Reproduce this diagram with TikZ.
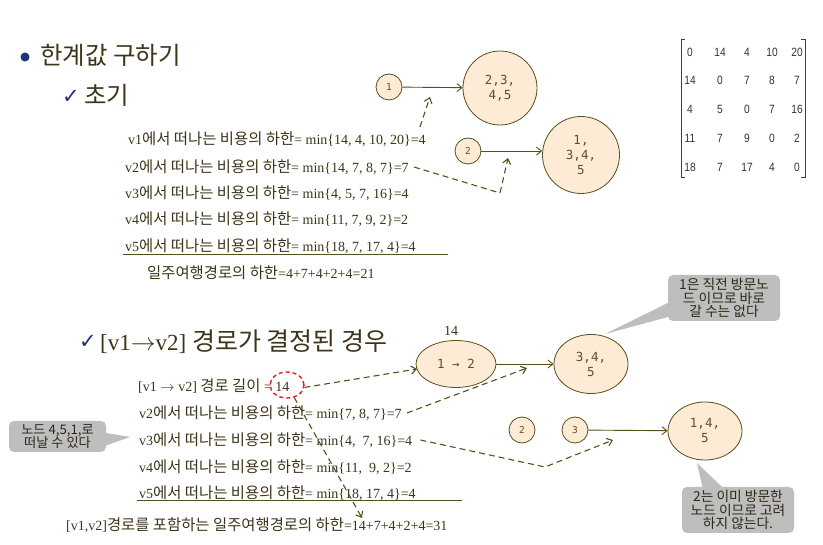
\documentclass[tikz,border=0pt]{standalone}
\usepackage{fontspec}
\setmainfont{Liberation Serif}
\newfontfamily\kr[Scale=1.1]{Noto Sans CJK KR}
\newfontfamily\krn{Noto Sans CJK KR}
\newfontfamily\mono{DejaVu Sans Mono}
\newfontfamily\msans[FakeStretch=0.85]{Liberation Sans}
\newfontfamily\sym{DejaVu Sans}
\usetikzlibrary{arrows.meta,shapes.geometric}
\newcommand\K[1]{{\kr #1}}
\definecolor{textc}{RGB}{62,52,25}
\definecolor{linec}{RGB}{85,80,30}
\definecolor{nodefill}{RGB}{253,235,213}
\definecolor{nodetext}{RGB}{105,75,35}
\definecolor{callc}{RGB}{190,190,190}
\definecolor{calltext}{RGB}{45,40,20}
\definecolor{bluec}{RGB}{30,50,120}
\definecolor{redc}{RGB}{230,30,30}
\begin{document}
\begin{tikzpicture}[x=1pt,y=-1pt,
 txt/.style={anchor=west,inner sep=0pt,text=textc,font=\fontsize{14}{16}\selectfont},
 vnode/.style={draw=linec,fill=nodefill,line width=0.8pt,inner sep=0pt,text=nodetext,align=center,font=\mono\fontsize{12.5}{15}\selectfont},
 smallnode/.style={vnode,circle,minimum size=26pt,font=\mono\fontsize{9.5}{10}\selectfont},
 setnode/.style={vnode,circle},
 ellnode/.style={vnode,ellipse},
 arr/.style={draw=linec,line width=0.9pt,-{Straight Barb[length=5pt,width=8pt]}},
 darr/.style={draw=linec,line width=1.1pt,dash pattern=on 6pt off 4pt,-{Straight Barb[length=5pt,width=8pt]}},
 call/.style={fill=callc,rounded corners=5pt,inner sep=0pt,align=center,text=calltext,font=\kr\fontsize{12.5}{13.5}\selectfont},
 mat/.style={inner sep=0pt,text=black!80,font=\msans\fontsize{12}{13}\selectfont},
 sep/.style={draw=linec,line width=0.9pt},
 chk/.style={anchor=west,inner sep=0pt,text=bluec,font=\sym\fontsize{21}{22}\selectfont},
]
\useasboundingbox (0,0) rectangle (823,545);
\fill[white] (0,0) rectangle (823,545);

% ---- headings
\fill[bluec] (25,57) circle (4.5);
\node[txt,font=\krn\fontsize{24.5}{28}\selectfont] (title) at (40,55) {한계값 구하기};
\node[chk] (ck1) at (62,97) {✓};
\node[txt,font=\krn\fontsize{24.5}{28}\selectfont] (sub1) at (84,95) {초기};

% ---- first block of text
\node[txt] (L1) at (128,139) {v1\K{에서 떠나는 비용의 하한}= min\{14, 4, 10, 20\}=4};
\node[txt] (L2) at (125,167) {v2\K{에서 떠나는 비용의 하한}= min\{14, 7, 8, 7\}=7};
\node[txt] (L3) at (125,193) {v3\K{에서 떠나는 비용의 하한}= min\{4, 5, 7, 16\}=4};
\node[txt] (L4) at (125,219) {v4\K{에서 떠나는 비용의 하한}= min\{11, 7, 9, 2\}=2};
\node[txt] (L5) at (125,246) {v5\K{에서 떠나는 비용의 하한}= min\{18, 7, 17, 4\}=4};
\draw[sep] (123,254) -- (448,254);
\node[txt] (L6) at (147,273) {\K{일주여행경로의 하한}=4+7+4+2+4=21};

% ---- first graph
\node[smallnode] (n1) at (389,87) {1};
\node[setnode,minimum size=74pt] (s1) at (500,88) {2,3,\\4,5};
\draw[arr] (n1) -- (s1);
\node[smallnode] (n2) at (468,151) {2};
\node[setnode,minimum size=77pt] (s2) at (581,155) {1,\\3,4,\\5};
\draw[arr] (n2) -- (n2 -| s2.west);
\coordinate (t1) at (430,97);
\draw[darr] ([xshift=-6pt,yshift=12pt]L1.east) -- (t1);
\coordinate (b2) at (500,193);
\coordinate (t2) at (508,158);
\draw[darr] ([xshift=5pt]L2.east) -- (b2) -- (t2);

% ---- cost matrix
\foreach \a/\b/\c/\d/\e [count=\r] in {0/14/4/10/20,14/0/7/8/7,4/5/0/7/16,11/7/9/0/2,18/7/17/4/0}{
  \pgfmathsetmacro\yy{52+28.75*(\r-1)}
  \node[mat] (m\r a) at (690,\yy) {\a};
  \node[mat] (m\r b) at (720,\yy) {\b};
  \node[mat] (m\r c) at (747,\yy) {\c};
  \node[mat] (m\r d) at (772,\yy) {\d};
  \node[mat] (m\r e) at (797,\yy) {\e};
}
\draw[black!75,line width=0.7pt] (685,39) -- (681,39) -- (681,177) -- (685,177);
\draw[black!75,line width=0.7pt] (801,39) -- (805,39) -- (805,177) -- (801,177);

% ---- second heading
\node[chk] (ck2) at (79,342) {✓};
\node[txt] (sub2) at (100,342) {{\fontsize{23}{26}\selectfont [v1$\rightarrow$v2] }{\krn\fontsize{25}{28}\selectfont 경로가 결정된 경우}};

% ---- second block of text
\node[txt] (P0) at (138,386) {[v1 $\rightarrow$ v2] \K{경로 길이} = 14};
\node[txt] (P2) at (139,413) {v2\K{에서 떠나는 비용의 하한}= min\{7, 8, 7\}=7};
\node[txt] (P3) at (139,440) {v3\K{에서 떠나는 비용의 하한}= min\{4,\ \ 7, 16\}=4};
\node[txt] (P4) at (139,467) {v4\K{에서 떠나는 비용의 하한}= min\{11,\ \ 9, 2\}=2};
\node[txt] (P5) at (139,493) {v5\K{에서 떠나는 비용의 하한}= min\{18, 17, 4\}=4};
\draw[sep] (137,500) -- (462,500);
\node[txt] (P6) at (66,525) {[v1,v2]\K{경로를 포함하는 일주여행경로의 하한}=14+7+4+2+4=31};
\node[draw=redc,line width=1.4pt,ellipse,minimum width=34pt,minimum height=26pt,dash pattern=on 4pt off 3pt] (rc) at (287,385) {};

% ---- second graph
\node[ellnode,minimum width=80pt,minimum height=47pt] (e1) at (456,364) {1 → 2};
\node[txt,anchor=center] (w14) at (451,331) {14};
\node[ellnode,minimum width=74pt,minimum height=59pt] (e2) at (591,364) {3,4,\\5};
\draw[arr] (e1) -- (e2);
\node[smallnode] (n2b) at (522,430) {2};
\node[smallnode] (n3) at (575,430) {3};
\node[ellnode,minimum width=74pt,minimum height=58pt] (e3) at (705,431) {1,4,\\5};
\draw[arr] (n3) -- (e3);

\coordinate (t3) at (417,369);
\draw[darr] (rc.-8) -- (t3);
\coordinate (t4) at (362,518);
\draw[darr] (rc.-60) -- (t4);
\coordinate (t5) at (527,368);
\draw[darr] ([xshift=5pt]P2.east) -- (t5);
\coordinate (b6) at (545,467);
\coordinate (t6) at (613,440);
\draw[darr] ([xshift=8pt]P3.east) -- (b6) -- (t6);

% ---- callouts
\node[call,minimum width=112pt,minimum height=46pt] (co1) at (724,298) {1은 직전 방문노\\드 이므로 바로\\갈 수는 없다};
\coordinate (p1) at (605,334);
\fill[callc] ([xshift=4pt,yshift=-3pt]co1.west) -- (p1) -- ([xshift=4pt,yshift=-18pt]co1.west) -- cycle;

\node[call,minimum width=112pt,minimum height=46pt] (co2) at (738,510) {2는 이미 방문한\\노드 이므로 고려\\하지 않는다.};
\coordinate (p2) at (697,463);
\fill[callc] ([xshift=-35pt,yshift=-3pt]co2.north) -- (p2) -- ([xshift=-13pt,yshift=-3pt]co2.north) -- cycle;

\node[call,minimum width=97pt,minimum height=31pt,font=\kr\fontsize{12}{13.5}\selectfont] (co3) at (57.5,436.5) {노드 4,5,1,로\\떠날 수 있다};
\coordinate (p3) at (130,437);
\fill[callc] ([xshift=-3pt,yshift=4pt]co3.east) -- (p3) -- ([xshift=-3pt,yshift=-10pt]co3.east) -- cycle;
\end{tikzpicture}
\end{document}
